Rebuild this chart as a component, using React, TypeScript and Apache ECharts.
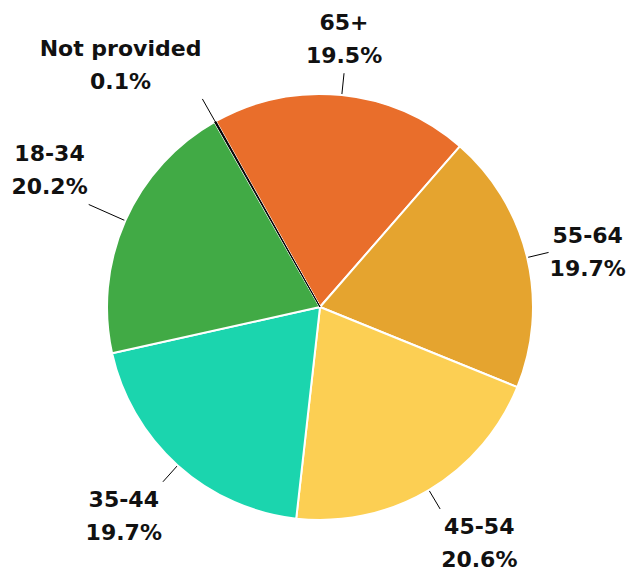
import React, { useEffect, useRef } from "react";
import * as echarts from "echarts";

const categories = ["65+", "55-64", "45-54", "35-44", "18-34", "Not provided"];
const values = [19.5, 19.7, 20.6, 19.7, 20.2, 0.1];
const colors = ["#E96E2B", "#E5A42F", "#FCCF53", "#1BD5AE", "#41AA45", "#000000"];
const lineLengths = [22, 22, 22, 22, 40, 26];

export default function App() {
  const ref = useRef<HTMLDivElement>(null);
  useEffect(() => {
    document.body.style.margin = "0";
    const chart = echarts.init(ref.current!, null, { renderer: "svg" });
    const sin18 = Math.sin((18 * Math.PI) / 180);
    chart.setOption({
      animation: false,
      backgroundColor: "#ffffff",
      series: [
        {
          type: "pie",
          center: [320, 307],
          radius: 213,
          startAngle: 119.3,
          clockwise: true,
          avoidLabelOverlap: false,
          itemStyle: { borderColor: "#ffffff", borderWidth: 2 },
          label: {
            show: true,
            formatter: (p: any) => `${p.name}\n${p.value}%`,
            fontFamily: "DejaVu Sans",
            fontWeight: "bold",
            fontSize: 22,
            lineHeight: 33,
            color: "#111111",
            align: "center",
          },
          labelLine: {
            show: true,
            length: 22,
            length2: 0,
            smooth: false,
            lineStyle: { color: "#000000", width: 1 },
          },
          labelLayout: (params: any) => {
            const pts = params.labelLinePoints;
            if (!pts) return {};
            const p0 = pts[0];
            const p1 = pts[1];
            const dx = p1[0] - p0[0];
            const dy = p1[1] - p0[1];
            const len = Math.sqrt(dx * dx + dy * dy) || 1;
            const ux = dx / len;
            const uy = dy / len;
            const w = params.labelRect ? params.labelRect.width : 0;
            let hx = 0;
            let verticalAlign = "middle";
            if (Math.abs(ux) >= sin18) hx = ux > 0 ? 1 : -1;
            if (Math.abs(uy) >= sin18) verticalAlign = uy > 0 ? "top" : "bottom";
            const gap = 1;
            return {
              x: p1[0] + hx * (gap + w / 2),
              y: p1[1] + (verticalAlign === "top" ? gap : verticalAlign === "bottom" ? -gap : 0),
              align: "center",
              verticalAlign,
              labelLinePoints: [
                [p0[0], p0[1]],
                [p1[0], p1[1]],
                [p1[0], p1[1]],
              ],
            };
          },
          data: categories.map((name, i) => ({
            name,
            value: values[i],
            labelLine: { length: lineLengths[i] },
            itemStyle:
              name === "Not provided"
                ? { color: colors[i], borderColor: "#000000", borderWidth: 1 }
                : { color: colors[i] },
          })),
        },
      ],
    });
    return () => chart.dispose();
  }, []);
  return <div ref={ref} style={{ width: 628, height: 573 }} />;
}
